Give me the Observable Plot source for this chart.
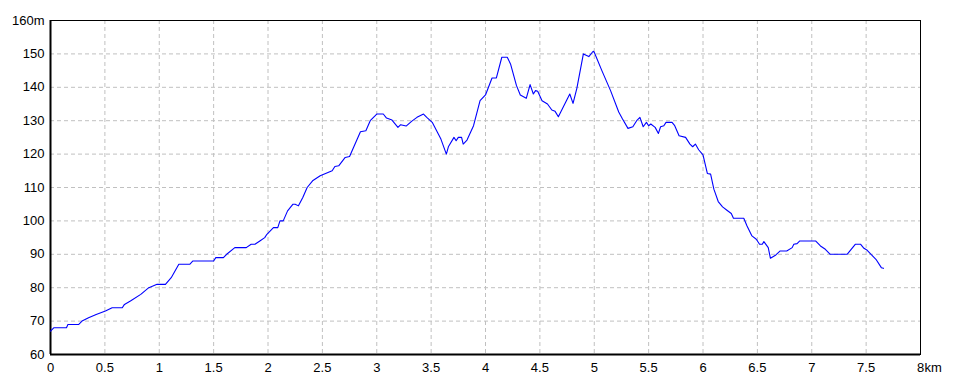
<!DOCTYPE html>
<html>
<head>
<meta charset="utf-8">
<script src="https://cdn.jsdelivr.net/npm/d3@7"></script>
<script src="https://cdn.jsdelivr.net/npm/@observablehq/plot@0.6"></script>
<style>
  html, body { margin: 0; padding: 0; background: #fff; }
  svg { display: block; }
</style>
</head>
<body>
<div id="chart"></div>
<script>
const distanceKm = [
  0, 0.03, 0.147, 0.16, 0.26, 0.29, 0.35, 0.42, 0.505, 0.567, 0.66, 0.68, 0.735, 0.83, 0.904, 0.98,
  1.057, 1.11, 1.18, 1.28, 1.31, 1.50, 1.52, 1.59, 1.62, 1.695, 1.80, 1.845, 1.88, 1.925, 1.97, 1.99,
  2.05, 2.09, 2.11, 2.14, 2.18, 2.23, 2.25, 2.28, 2.32, 2.36, 2.41, 2.48, 2.59, 2.615, 2.65, 2.71, 2.75,
  2.85, 2.90, 2.94, 3.00, 3.06, 3.09, 3.14, 3.195, 3.22, 3.27, 3.32, 3.37, 3.43, 3.46, 3.51, 3.59, 3.64,
  3.66, 3.71, 3.73, 3.75, 3.78, 3.795, 3.83, 3.89, 3.95, 4.00, 4.06, 4.10, 4.15, 4.20, 4.23, 4.285, 4.32,
  4.375, 4.41, 4.44, 4.46, 4.48, 4.52, 4.57, 4.61, 4.64, 4.67, 4.775, 4.805, 4.84, 4.90, 4.95, 4.99, 5.00,
  5.07, 5.15, 5.225, 5.26, 5.31, 5.355, 5.39, 5.42, 5.45, 5.48, 5.50, 5.52, 5.56, 5.59, 5.61, 5.64, 5.66,
  5.715, 5.74, 5.78, 5.84, 5.88, 5.905, 5.93, 5.96, 6.00, 6.04, 6.07, 6.10, 6.14, 6.18, 6.22, 6.26, 6.28,
  6.375, 6.405, 6.45, 6.49, 6.52, 6.545, 6.56, 6.60, 6.62, 6.67, 6.71, 6.77, 6.82, 6.835, 6.865, 6.89,
  7.035, 7.08, 7.125, 7.17, 7.325, 7.40, 7.45, 7.48, 7.51, 7.55, 7.59, 7.64, 7.66
];
const elevationM = [
  67, 68, 68, 69, 69, 70, 71, 72, 73, 74, 74, 75, 76, 78, 80, 81,
  81, 83, 87, 87, 88, 88, 89, 89, 90, 92, 92, 93, 93, 94, 95, 96,
  98, 98, 100, 100, 103, 105, 105, 104.5, 107, 110, 112, 113.5, 115, 116.3, 116.5, 119, 119.3,
  126.7, 127, 130, 132, 132, 130.8, 130.2, 128, 128.8, 128.4, 129.8, 131, 132, 131, 129.5, 124.5, 120,
  122.3, 125, 124, 125, 125, 123, 124.2, 128.5, 136, 137.7, 142.8, 142.8, 149, 149, 147, 140.5, 137.7,
  136.7, 140.8, 138, 139, 138.8, 136, 135, 133.2, 132.8, 131.2, 138, 135.2, 139.7, 150, 149.2, 150.8, 150.5,
  145, 139, 132.6, 130.5, 127.7, 128.2, 130, 131, 128.2, 129.5, 128.5, 129, 128, 126.2, 128.2, 128.5, 129.5,
  129.5, 128.5, 125.5, 125, 123, 122.2, 123, 121.3, 119.8, 114.2, 114, 109.5, 105.8, 104.2, 103.2, 102.2, 100.8,
  100.8, 98.5, 95.5, 94.5, 93, 93, 93.8, 92, 88.8, 89.8, 91, 91, 92, 93, 93.2, 94,
  94, 92.5, 91.5, 90, 90, 93, 93, 91.8, 91.2, 89.8, 88.5, 86, 85.8
];
const xTicks = [0, 0.5, 1, 1.5, 2, 2.5, 3, 3.5, 4, 4.5, 5, 5.5, 6, 6.5, 7, 7.5, 8];
const yTicks = [60, 70, 80, 90, 100, 110, 120, 130, 140, 150, 160];
const xGrid = [0.5, 1, 1.5, 2, 2.5, 3, 3.5, 4, 4.5, 5, 5.5, 6, 6.5, 7, 7.5];
const yGrid = [70, 80, 90, 100, 110, 120, 130, 140, 150];
const xUnit = "km";
const yUnit = "m";

const profile = distanceKm.map((d, i) => ({d, e: elevationM[i]}));

const chart = Plot.plot({
  width: 960,
  height: 384,
  marginLeft: 50,
  marginRight: 40,
  marginTop: 20,
  marginBottom: 30,
  style: {fontFamily: "'Liberation Sans', Arial, sans-serif", fontSize: "13px", color: "#000", background: "#fff"},
  x: {domain: [0, 8]},
  y: {domain: [60, 160]},
  marks: [
    Plot.ruleX(xGrid, {stroke: "#c0c0c0", strokeDasharray: "4,3", strokeWidth: 1}),
    Plot.ruleY(yGrid, {stroke: "#c0c0c0", strokeDasharray: "4,3", strokeWidth: 1}),
    Plot.frame({stroke: "#000", strokeWidth: 1}),
    Plot.ruleX([0], {stroke: "#000", strokeWidth: 2}),
    Plot.ruleY([60], {stroke: "#000", strokeWidth: 2}),
    Plot.line(profile, {x: "d", y: "e", stroke: "#0000ff", strokeWidth: 1.1}),
    Plot.axisX(xTicks, {tickSize: 0, tickPadding: 8, tickFormat: d => String(d), fill: "#000", fontSize: 13, label: null}),
    Plot.text([8], {x: d => d, y: 60, text: () => xUnit, textAnchor: "start", dx: 4, dy: 13, fill: "#000", fontSize: 13}),
    Plot.axisY(yTicks, {tickSize: 0, tickPadding: 6, tickFormat: d => d === 160 ? d + yUnit : String(d), fill: "#000", fontSize: 13, label: null})
  ]
});
document.getElementById("chart").appendChild(chart);
</script>
</body>
</html>
